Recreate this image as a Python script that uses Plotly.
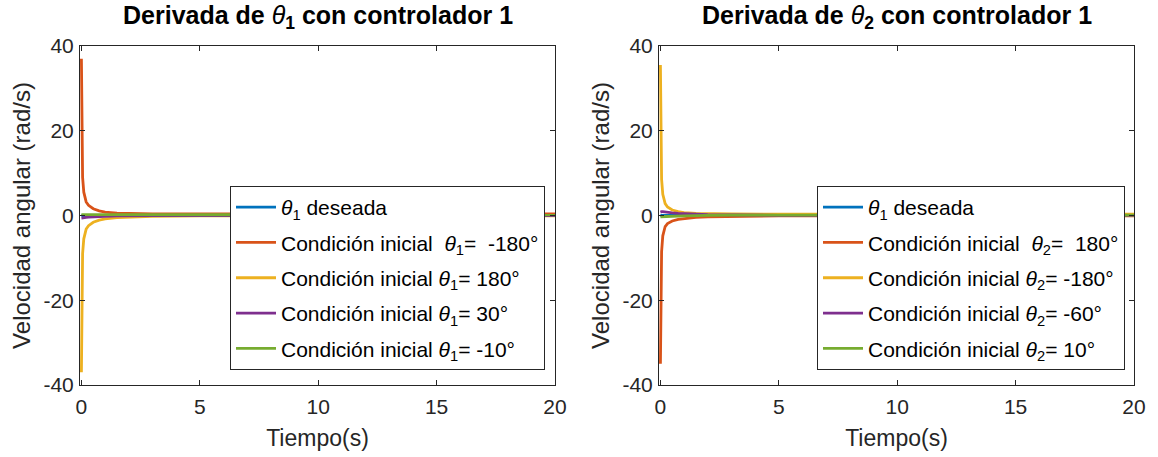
import plotly.graph_objects as go

# ---- data ----
t = [0, 0.02, 0.05, 0.1, 0.15, 0.2, 0.3, 0.5, 0.75, 1.0, 1.5, 2.0, 3.0, 5.0, 10.0, 15.0, 20.0]

# left: derivative of theta1
l_des = [0]*17
l_m180 = [37, 18, 9, 5.5, 4.0, 3.2, 2.4, 1.6, 1.1, 0.8, 0.55, 0.45, 0.4, 0.4, 0.4, 0.4, 0.4]
l_p180 = [-37, -18, -9, -5.5, -4.0, -3.2, -2.4, -1.6, -1.1, -0.8, -0.5, -0.35, -0.2, -0.1, -0.1, -0.1, -0.1]
l_p30 = [-0.6, -0.6, -0.6, -0.55, -0.5, -0.45, -0.4, -0.3, -0.25, -0.2, -0.1, -0.05, 0, 0, 0, 0, 0]
l_m10 = [0.2, 0.2, 0.2, 0.2, 0.2, 0.2, 0.2, 0.15, 0.15, 0.15, 0.15, 0.15, 0.15, 0.15, 0.15, 0.15, 0.15]

# right: derivative of theta2
r_des = [0]*17
r_p180 = [-35, -17, -8.5, -4.8, -3.4, -2.6, -1.9, -1.3, -0.9, -0.7, -0.45, -0.3, -0.2, -0.1, -0.1, -0.1, -0.1]
r_m180 = [35.5, 17, 8.5, 5.0, 3.6, 2.8, 2.0, 1.3, 0.9, 0.7, 0.5, 0.4, 0.35, 0.3, 0.3, 0.3, 0.3]
r_m60 = [0.8, 0.9, 0.9, 0.9, 0.85, 0.8, 0.7, 0.6, 0.5, 0.4, 0.3, 0.2, 0.1, 0.05, 0.05, 0.05, 0.05]
r_p10 = [-0.3, -0.3, -0.3, -0.3, -0.3, -0.3, -0.25, -0.2, -0.15, -0.1, 0, 0.05, 0.1, 0.1, 0.1, 0.1, 0.1]

x_ticks = [0, 5, 10, 15, 20]
y_ticks = [-40, -20, 0, 20, 40]
y_ticktext = ["-40", "-20", "0", "20", "40"]

colors = ["#0072BD", "#D95319", "#EDB120", "#7E2F8E", "#77AC30"]
NB = "\u00a0"
left_names = [
    "<i>θ</i><sub>1</sub> deseada",
    f"Condición inicial {NB}<i>θ</i><sub>1</sub>={NB}{NB}-180°",
    "Condición inicial <i>θ</i><sub>1</sub>= 180°",
    "Condición inicial <i>θ</i><sub>1</sub>= 30°",
    "Condición inicial <i>θ</i><sub>1</sub>= -10°",
]
right_names = [
    "<i>θ</i><sub>1</sub> deseada",
    f"Condición inicial {NB}<i>θ</i><sub>2</sub>={NB}{NB}180°",
    "Condición inicial <i>θ</i><sub>2</sub>= -180°",
    "Condición inicial <i>θ</i><sub>2</sub>= -60°",
    "Condición inicial <i>θ</i><sub>2</sub>= 10°",
]
left_series = [l_des, l_m180, l_p180, l_p30, l_m10]
right_series = [r_des, r_p180, r_m180, r_m60, r_p10]

FONT = "Liberation Sans, Arial, Helvetica, sans-serif"
AX = "#262626"

fig = go.Figure()
for i, (y, n) in enumerate(zip(left_series, left_names)):
    fig.add_trace(go.Scatter(x=t, y=y, name=n, mode="lines",
                             line=dict(color=colors[i], width=2.8),
                             xaxis="x", yaxis="y", legend="legend",
                             legendgroup=f"l{i}", hoverinfo="skip"))
for i, (y, n) in enumerate(zip(right_series, right_names)):
    fig.add_trace(go.Scatter(x=t, y=y, name=n, mode="lines",
                             line=dict(color=colors[i], width=2.8),
                             xaxis="x2", yaxis="y2", legend="legend2",
                             legendgroup=f"r{i}", hoverinfo="skip"))

W, H = 1158, 457
def fx(p): return p / W
def fy(p): return 1 - p / H

axcommon = dict(showline=True, mirror="ticks", linecolor=AX, linewidth=1,
                ticks="inside", ticklen=5, tickcolor=AX, showgrid=False,
                zeroline=False, automargin=False,
                tickfont=dict(family=FONT, size=21, color=AX))

x_common = dict(axcommon, range=[-0.06, 20], tickvals=x_ticks, ticklabelstandoff=3,
                title=dict(text="Tiempo(s)", font=dict(family=FONT, size=23, color=AX), standoff=12))
y_common = dict(axcommon, range=[-40, 40], tickvals=y_ticks, ticktext=y_ticktext,
                ticklabelstandoff=1)
ytitle = dict(text="Velocidad angular (rad/s)", font=dict(family=FONT, size=24, color=AX), standoff=6)

legcommon = dict(bgcolor="white", bordercolor=AX, borderwidth=1,
                 font=dict(family=FONT, size=21, color="black"),
                 xanchor="left", yanchor="top", tracegroupgap=5, itemwidth=40)

fig.update_layout(
    width=W, height=H, margin=dict(l=0, r=0, t=0, b=0, autoexpand=False),
    paper_bgcolor="white", plot_bgcolor="white",
    xaxis=dict(x_common, domain=[fx(80), fx(555)], anchor="y"),
    yaxis=dict(y_common, domain=[fy(385), fy(46)], anchor="x", title=ytitle),
    xaxis2=dict(x_common, domain=[fx(659), fx(1134)], anchor="y2"),
    yaxis2=dict(y_common, domain=[fy(385), fy(46)], anchor="x2", title=ytitle),
    legend=dict(legcommon, x=fx(230), y=fy(186)),
    legend2=dict(legcommon, x=fx(817), y=fy(186)),
    showlegend=True,
    annotations=[
        dict(text="<b>Derivada de </b><i>θ</i><sub><b>1</b></sub><b> con controlador 1</b>",
             x=fx(318), y=fy(17), xref="paper", yref="paper", showarrow=False,
             font=dict(family=FONT, size=25, color="black"), xanchor="center", yanchor="middle"),
        dict(text="<b>Derivada de </b><i>θ</i><sub><b>2</b></sub><b> con controlador 1</b>",
             x=fx(897), y=fy(17), xref="paper", yref="paper", showarrow=False,
             font=dict(family=FONT, size=25, color="black"), xanchor="center", yanchor="middle"),
    ],
)

fig.write_html("out.html")
